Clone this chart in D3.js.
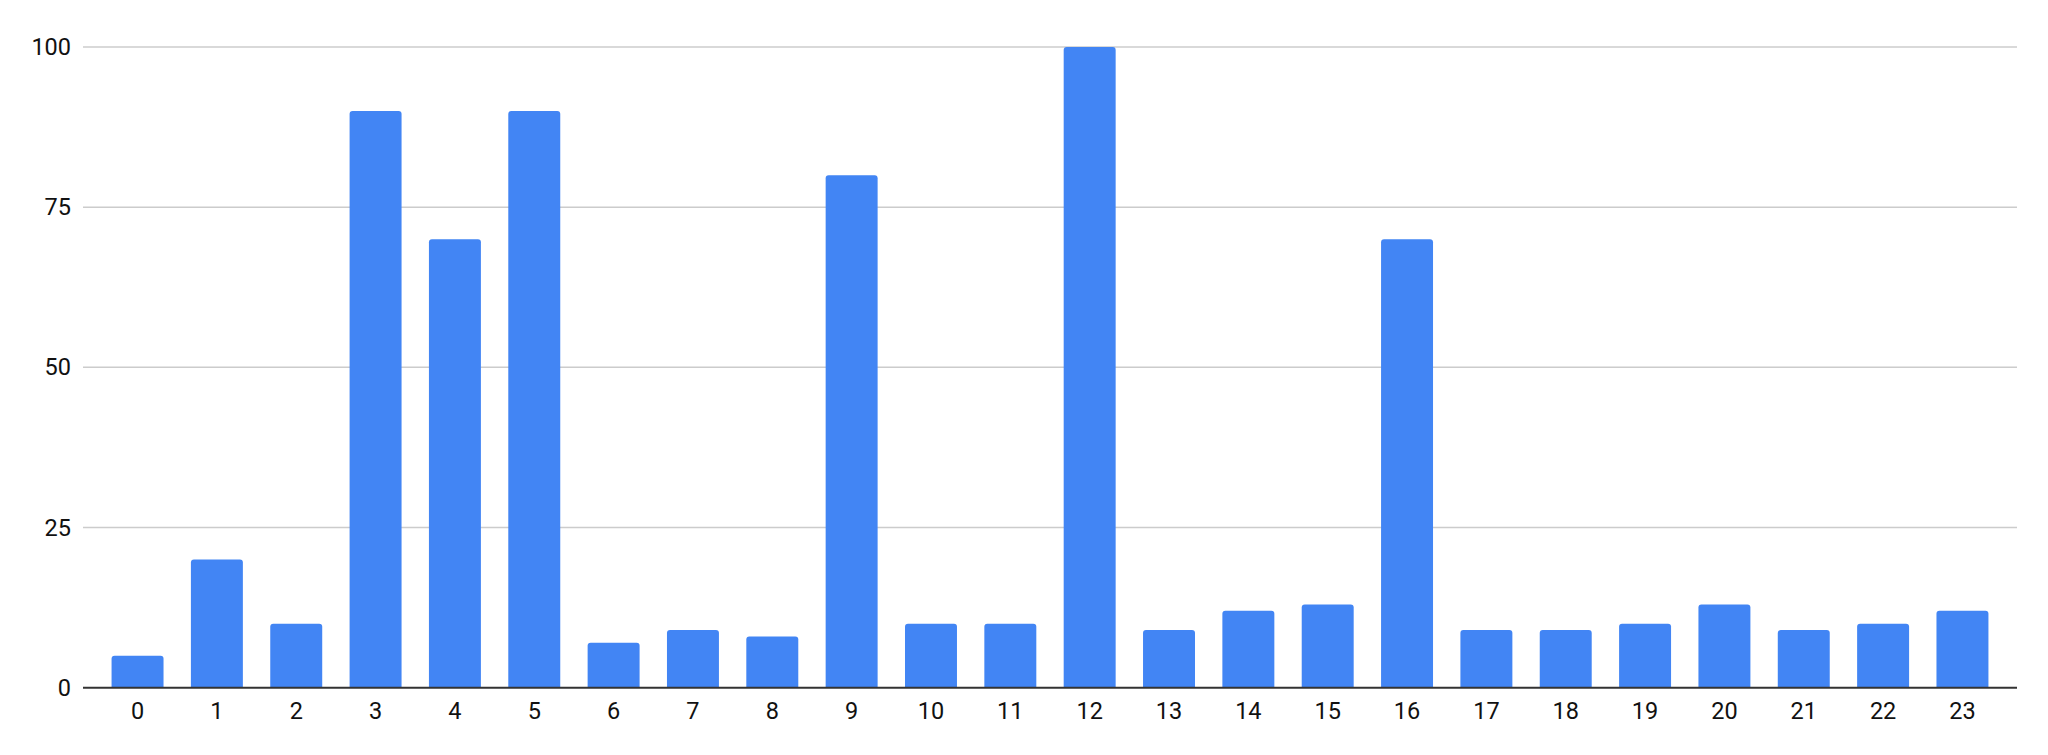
<!DOCTYPE html>
<html>
<head>
<meta charset="utf-8">
<script src="https://cdn.jsdelivr.net/npm/d3@7"></script>
<style>
  body { margin: 0; background: #fff; }
  text { font-family: Roboto, "Noto Sans", sans-serif; }
</style>
</head>
<body>
<div id="chart"></div>
<script>
const categories = ["0","1","2","3","4","5","6","7","8","9","10","11","12","13","14","15","16","17","18","19","20","21","22","23"];
const values = [5, 20, 10, 90, 70, 90, 7, 9, 8, 80, 10, 10, 100, 9, 12, 13, 70, 9, 9, 10, 13, 9, 10, 12];
const yTicks = [0, 25, 50, 75, 100];

const width = 2048, height = 755;
const margin = {top: 47, right: 31, bottom: 67, left: 83};

const svg = d3.select("#chart").append("svg")
    .attr("width", width).attr("height", height);

const x = d3.scaleBand().domain(categories)
    .range([margin.left, width - margin.right])
    .paddingInner(0.345).paddingOuter(0.36);
const y = d3.scaleLinear().domain([0, 100])
    .range([height - margin.bottom - 0.3, margin.top]);

// gridlines
svg.append("g").selectAll("line").data(yTicks.filter(d => d > 0)).join("line")
    .attr("x1", margin.left).attr("x2", width - margin.right)
    .attr("y1", d => y(d)).attr("y2", d => y(d))
    .attr("stroke", "#cccccc").attr("stroke-width", 1.5);

// y labels
svg.append("g").selectAll("text").data(yTicks).join("text")
    .attr("x", margin.left - 12).attr("y", d => y(d))
    .attr("text-anchor", "end").attr("dominant-baseline", "central")
    .attr("font-size", 23.5).attr("fill", "#111")
    .text(d => d);

// bars with rounded top
const r = 3;
svg.append("g").selectAll("path").data(values).join("path")
    .attr("fill", "#4285f4")
    .attr("d", (d, i) => {
        const x0 = x(categories[i]), w = x.bandwidth();
        const y0 = y(d), yb = y(0);
        return `M${x0},${yb}V${y0 + r}Q${x0},${y0} ${x0 + r},${y0}H${x0 + w - r}Q${x0 + w},${y0} ${x0 + w},${y0 + r}V${yb}Z`;
    });

// x axis line
svg.append("line")
    .attr("x1", margin.left).attr("x2", width - margin.right)
    .attr("y1", y(0)).attr("y2", y(0))
    .attr("stroke", "#333").attr("stroke-width", 2);

// x labels
svg.append("g").selectAll("text").data(categories).join("text")
    .attr("x", d => x(d) + x.bandwidth() / 2).attr("y", y(0) + 23)
    .attr("text-anchor", "middle").attr("dominant-baseline", "central")
    .attr("font-size", 23.5).attr("fill", "#111")
    .text(d => d);
</script>
</body>
</html>
